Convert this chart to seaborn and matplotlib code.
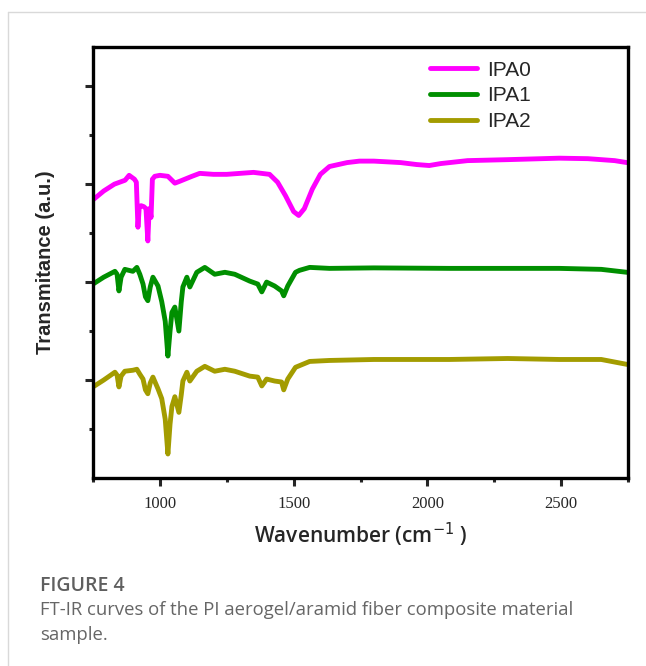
import numpy as np
import pandas as pd
import matplotlib
matplotlib.use("Agg")
import matplotlib.pyplot as plt
from matplotlib.lines import Line2D
from matplotlib.ticker import FixedLocator
import seaborn as sns

# ---- data ----
series_names = ["IPA0", "IPA1", "IPA2"]
colors = ["#FF00FF", "#008F00", "#A39C00"]

ipa0_w = [750, 790, 830, 870, 885, 895, 905, 912, 918, 923, 930, 940, 948, 955, 960, 964, 967, 972,
          981, 1000, 1030, 1056, 1075, 1093, 1120, 1149, 1200, 1250, 1300, 1350, 1410, 1440, 1470,
          1500, 1519, 1540, 1570, 1600, 1634, 1700, 1746, 1800, 1900, 1960, 2007, 2050, 2150, 2300,
          2493, 2600, 2700, 2746]
ipa0_t = [2.84, 2.93, 3.00, 3.04, 3.09, 3.07, 3.05, 3.02, 2.56, 2.77, 2.78, 2.77, 2.75, 2.42, 2.75,
          2.72, 2.66, 3.05, 3.08, 3.09, 3.08, 3.01, 3.03, 3.05, 3.08, 3.11, 3.10, 3.10, 3.11, 3.12,
          3.10, 3.02, 2.88, 2.72, 2.68, 2.75, 2.95, 3.10, 3.18, 3.22, 3.235, 3.235, 3.22, 3.20, 3.19,
          3.21, 3.24, 3.25, 3.265, 3.26, 3.24, 3.22]

ipa1_w = [750, 790, 832, 840, 847, 855, 869, 899, 914, 925, 937, 946, 955, 964, 974, 993, 1007,
          1020, 1030, 1038, 1045, 1056, 1071, 1080, 1086, 1101, 1112, 1138, 1168, 1205, 1243,
          1280, 1336, 1366, 1381, 1399, 1429, 1455, 1463, 1478, 1507, 1522, 1560, 1634, 1800,
          2082, 2300, 2493, 2650, 2746]
ipa1_t = [1.98, 2.05, 2.11, 2.08, 1.91, 2.05, 2.13, 2.11, 2.15, 2.08, 1.98, 1.85, 1.81, 1.95,
          2.05, 1.96, 1.80, 1.60, 1.245, 1.50, 1.69, 1.745, 1.50, 1.80, 1.95, 2.05, 1.95, 2.10,
          2.15, 2.08, 2.10, 2.08, 2.01, 1.98, 1.90, 2.00, 1.96, 1.91, 1.86, 1.96, 2.10, 2.12,
          2.15, 2.14, 2.145, 2.14, 2.14, 2.14, 2.13, 2.10]

ipa2_w = [750, 790, 832, 840, 847, 855, 869, 899, 914, 925, 937, 946, 955, 964, 974, 993, 1007,
          1020, 1030, 1038, 1045, 1056, 1071, 1080, 1086, 1101, 1112, 1138, 1168, 1205, 1243,
          1280, 1336, 1366, 1381, 1399, 1429, 1455, 1463, 1478, 1507, 1560, 1634, 1800,
          2082, 2300, 2493, 2650, 2746]
ipa2_t = [0.93, 1.00, 1.08, 1.05, 0.93, 1.04, 1.09, 1.10, 1.11, 1.06, 1.01, 0.90, 0.86, 0.97,
          1.03, 0.91, 0.81, 0.60, 0.245, 0.55, 0.73, 0.83, 0.67, 0.85, 0.99, 1.08, 0.99, 1.09,
          1.14, 1.09, 1.11, 1.09, 1.04, 1.03, 0.94, 1.01, 0.99, 0.98, 0.90, 1.01, 1.13, 1.19,
          1.20, 1.21, 1.21, 1.22, 1.21, 1.21, 1.16]

xticks = [1000, 1500, 2000, 2500]
xlabel = "Wavenumber (cm$^{-1}$ )"
ylabel = "Transmitance (a.u.)"
caption_title = "FIGURE 4"
caption_lines = ["FT-IR curves of the PI aerogel/aramid fiber composite material", "sample."]

frames = []
for name, w, t in zip(series_names, [ipa0_w, ipa1_w, ipa2_w], [ipa0_t, ipa1_t, ipa2_t]):
    frames.append(pd.DataFrame({"Wavenumber": w, "T": t, "Sample": name}))
df = pd.concat(frames, ignore_index=True)

sns.set_style("white")
fig = plt.figure(figsize=(6.46, 6.66), dpi=100)
ax = fig.add_axes([93 / 646, 1 - 478 / 666, (628 - 93) / 646, (478 - 47) / 666])

sns.lineplot(data=df, x="Wavenumber", y="T", hue="Sample", palette=colors,
             hue_order=series_names, estimator=None, sort=False, lw=3.5, ax=ax, legend=False)

ax.set_xlim(750, 2750)
ax.set_ylim(0, 4.4)
ax.set_xticks(xticks)
ax.xaxis.set_minor_locator(FixedLocator([750, 1250, 1750, 2250, 2750]))
ax.set_yticks([1, 2, 3, 4])
ax.yaxis.set_minor_locator(FixedLocator([0.5, 1.5, 2.5, 3.5]))
ax.set_yticklabels([])
for lab in ax.get_xticklabels():
    lab.set_fontfamily("Liberation Serif")
    lab.set_fontsize(12)
ax.tick_params(axis="both", which="major", direction="out", length=6, width=2.2, left=True, bottom=True)
ax.tick_params(axis="both", which="minor", direction="out", length=3, width=2.2, left=True, bottom=True)
ax.tick_params(axis="x", pad=7)
for s in ax.spines.values():
    s.set_linewidth(2.4)
    s.set_color("black")

ax.set_xlabel(xlabel, fontsize=15, fontfamily="Open Sans", fontweight="semibold", labelpad=6)
ax.set_ylabel(ylabel, fontsize=14.5, fontfamily="Liberation Sans", fontweight="bold", labelpad=18)

handles = [Line2D([], [], color=c, lw=3.5) for c in colors]
ax.legend(handles, series_names, loc="upper left", bbox_to_anchor=(0.595, 1.012), frameon=False,
          prop={"family": "Liberation Sans", "size": 15}, handlelength=2.25, handletextpad=0.5,
          labelspacing=0.33)

# page frame and caption
fig.add_artist(Line2D([8 / 646, 1], [1 - 12 / 666, 1 - 12 / 666], color="#d9d9d9", lw=1))
fig.add_artist(Line2D([8 / 646, 8 / 646], [0, 1 - 12 / 666], color="#d9d9d9", lw=1))
fig.text(40 / 646, 1 - 586 / 666, caption_title, fontsize=14, fontfamily="Open Sans",
         fontweight="semibold", color="#5f5f5f", va="center", ha="left")
fig.text(40 / 646, 1 - 610 / 666, caption_lines[0], fontsize=13.3, fontfamily="Open Sans",
         color="#666666", va="center", ha="left")
fig.text(40 / 646, 1 - 635 / 666, caption_lines[1], fontsize=13.3, fontfamily="Open Sans",
         color="#666666", va="center", ha="left")

fig.savefig("out.png", dpi=100)
